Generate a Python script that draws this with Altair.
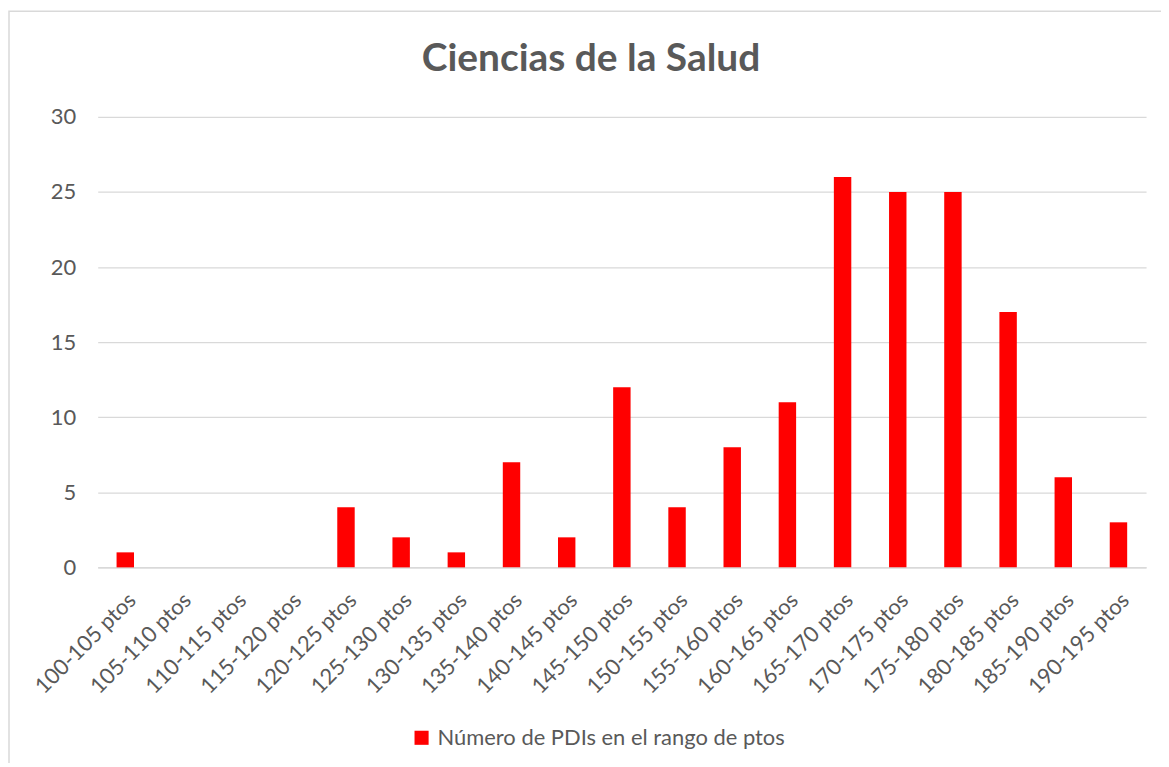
import altair as alt
import pandas as pd

categorias = ["100-105 ptos", "105-110 ptos", "110-115 ptos", "115-120 ptos", "120-125 ptos",
              "125-130 ptos", "130-135 ptos", "135-140 ptos", "140-145 ptos", "145-150 ptos",
              "150-155 ptos", "155-160 ptos", "160-165 ptos", "165-170 ptos", "170-175 ptos",
              "175-180 ptos", "180-185 ptos", "185-190 ptos", "190-195 ptos"]
valores = [1, 0, 0, 0, 4, 2, 1, 7, 2, 12, 4, 8, 11, 26, 25, 25, 17, 6, 3]
serie = "Número de PDIs en el rango de ptos"
titulo = "Ciencias de la Salud"
y_ticks = [0, 5, 10, 15, 20, 25, 30]

df = pd.DataFrame({"rango": categorias, "n": valores, "serie": [serie] * len(categorias)})

FONT = "Lato"
GRAY = "#595959"
W, H = 1052, 452

bars = alt.Chart(df).mark_bar(color="#ff0000").encode(
    x=alt.X("rango:N", sort=categorias, title=None,
            scale=alt.Scale(paddingInner=0.684, paddingOuter=0.342),
            axis=alt.Axis(labelAngle=-45, labelFontSize=22, labelFont=FONT, labelColor=GRAY,
                          domainColor="#d9d9d9", domainWidth=1.5, ticks=False, labelPadding=22,
                          labelOverlap=False, labelLimit=0, grid=False)),
    y=alt.Y("n:Q", title=None, scale=alt.Scale(domain=[0, 30]),
            axis=alt.Axis(values=y_ticks, grid=True, gridColor="#d9d9d9", gridWidth=1.3,
                          domain=False, ticks=False, labelFontSize=22, labelFont=FONT,
                          labelColor=GRAY, labelPadding=22)),
    color=alt.Color("serie:N", scale=alt.Scale(range=["#ff0000"]),
                    legend=alt.Legend(title=None, orient="none", legendX=314, legendY=612,
                                      symbolType="square", symbolSize=200, symbolStrokeWidth=0,
                                      labelFontSize=22, labelFont=FONT, labelColor=GRAY,
                                      labelOffset=5, labelLimit=0)),
)

border = alt.Chart(alt.Data(values=[{"a": 1}])).mark_rect(
    fill="transparent", stroke="#d9d9d9", strokeWidth=1.5
).encode(x=alt.value(-89), x2=alt.value(W + 60), y=alt.value(-106), y2=alt.value(H + 260))

title_mark = alt.Chart(alt.Data(values=[{"t": titulo}])).mark_text(
    font=FONT, fontSize=39, fontWeight="bold", color=GRAY, align="center", baseline="middle"
).encode(text="t:N", x=alt.value(495), y=alt.value(-58))

chart = alt.layer(border, bars, title_mark).properties(
    width=W, height=H,
    background="white",
    autosize=alt.AutoSizeParams(type="none"),
    padding={"left": 90, "top": 108, "right": 15, "bottom": 195},
).configure_view(stroke=None)

chart.save("out.html", embed_options={"renderer": "svg", "actions": False})
